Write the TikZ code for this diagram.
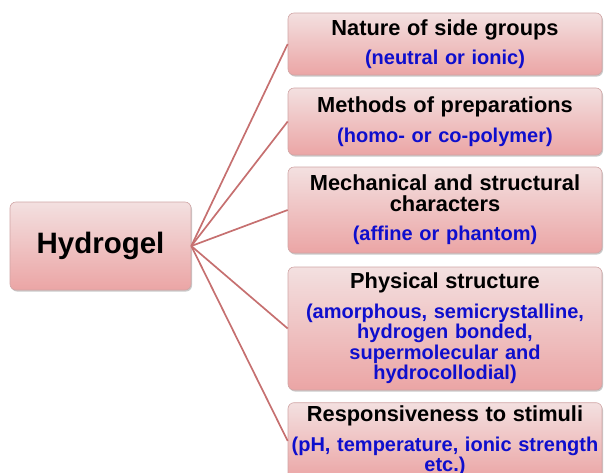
\documentclass[tikz,border=0pt]{standalone}
\usepackage{fontspec}
\setmainfont{Liberation Sans}
\usetikzlibrary{shadows}
\definecolor{boxtop}{RGB}{243,224,224}
\definecolor{boxbot}{RGB}{235,165,165}
\definecolor{boxline}{RGB}{208,165,165}
\definecolor{linkred}{RGB}{198,112,112}
\definecolor{noteblue}{RGB}{14,14,205}
\newcommand{\hgtitle}[1]{{\color{black}\fontsize{21.8}{22}\selectfont #1}}
\tikzset{
  pinkbox/.style={draw=boxline, line width=0.6pt, rounded corners=6pt,
    top color=boxtop, bottom color=boxbot,
    drop shadow={shadow xshift=1pt, shadow yshift=-1.5pt, opacity=0.35, fill=black!60}},
  factor/.style={pinkbox, text width=312pt, inner xsep=1pt, align=center,
    text=noteblue, font=\fontsize{20}{20.5}\selectfont\bfseries},
  link/.style={draw=linkred, line width=1.7pt}
}

\begin{document}
\begin{tikzpicture}[x=1pt, y=-1pt]
  %%%%% START %%%%%
  \useasboundingbox (0, 0) rectangle (605, 472);
  \clip (0, 0) rectangle (605, 472);

  \node[pinkbox, minimum width=181pt, minimum height=88pt,
    font=\fontsize{29.5}{30}\selectfont\bfseries] (hydrogel) at (100.5, 246) {Hydrogel};

  \node[factor, minimum height=62pt] (side) at (445, 44)
    {\hgtitle{Nature of side groups}\\[9pt](neutral or ionic)};
  \node[factor, minimum height=67pt] (prep) at (445, 121.5)
    {\hgtitle{Methods of preparations}\\[9pt](homo- or co-polymer)};
  \node[factor, minimum height=86pt] (mech) at (445, 210)
    {\hgtitle{Mechanical and structural\\characters}\\[9pt](affine or phantom)};
  \node[factor, minimum height=123pt] (phys) at (445, 328.5)
    {\hgtitle{Physical structure}\\[9pt](amorphous, semicrystalline,\\hydrogen bonded,\\supermolecular and\\hydrocollodial)};
  \node[factor, minimum height=76pt] (resp) at (445, 441)
    {\hgtitle{Responsiveness to stimuli}\\[9pt](pH, temperature, ionic strength\\etc.)};

  % links
  \foreach \fac in {side, prep, mech, phys, resp}
    \draw[link] (hydrogel.east) -- (\fac.west);
  %%%%% END %%%%%
\end{tikzpicture}
\end{document}
